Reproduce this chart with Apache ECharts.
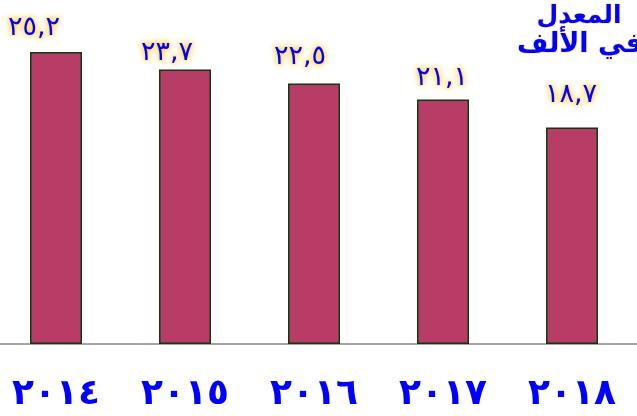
<!DOCTYPE html>
<html><head><meta charset="utf-8">
<script src="https://cdn.jsdelivr.net/npm/echarts@6/dist/echarts.min.js"></script>
<style>html,body{margin:0;padding:0;background:#fff}#c{width:637px;height:416px}</style>
</head><body><div id="c"></div>
<script>
const years = ['٢٠١٤','٢٠١٥','٢٠١٦','٢٠١٧','٢٠١٨'];
const values = [25.2, 23.7, 22.5, 21.1, 18.7];
const valueLabels = ['٢٥,٢','٢٣,٧','٢٢,٥','٢١,١','١٨,٧'];
const titleLines = ['المعدل', 'في الألف'];

// label nudges as placed in the original slide (layout only)
const labelNudge = [[-22,-3],[-18,5],[-14,-5],[-1,0],[-1,-11]];

const glow = { textShadowColor: '#ffc21a', textShadowBlur: 6, textBorderColor: 'rgba(255,230,140,0.45)', textBorderWidth: 2 };
const gGlow = { stroke: 'rgba(255,225,130,0.6)', lineWidth: 2, shadowColor: '#ffc21a', shadowBlur: 6 };
const chart = echarts.init(document.getElementById('c'));
chart.setOption({
  animation: false,
  graphic: [{
    type: 'text', z: 10,
    style: Object.assign({
      text: titleLines[0], x: 579, y: 16, fill: '#0000ff', font: 'bold 25px "DejaVu Sans"',
      align: 'center', verticalAlign: 'middle'
    }, gGlow)
  }, {
    type: 'text', z: 10,
    style: Object.assign({
      text: titleLines[1], x: 580, y: 45, fill: '#0000ff', font: 'bold 27px "DejaVu Sans"',
      align: 'center', verticalAlign: 'middle'
    }, gGlow)
  }],
  grid: [
    { left: 56, right: 65, top: 0, bottom: 72 },
    { left: 0, right: 0, top: 0, bottom: 72 }
  ],
  xAxis: [{
    type: 'category', data: years, gridIndex: 0, boundaryGap: false,
    axisLine: { show: false },
    axisTick: { show: false },
    axisLabel: {
      color: '#0000ff', fontSize: 36, fontWeight: 'bold', fontFamily: 'DejaVu Sans', margin: 33
    }
  }, {
    type: 'value', gridIndex: 1, min: 0, max: 1, show: true,
    axisLine: { show: true, onZero: false, lineStyle: { color: '#a6a6a6', width: 2 } },
    axisTick: { show: false }, axisLabel: { show: false }, splitLine: { show: false }
  }],
  yAxis: [
    { type: 'value', gridIndex: 0, min: 0, max: 29.7, show: false, splitLine: { show: false } },
    { type: 'value', gridIndex: 1, min: 0, max: 1, show: false, splitLine: { show: false } }
  ],
  series: [{
    type: 'bar', barWidth: 52, clip: false, xAxisIndex: 0, yAxisIndex: 0,
    data: values.map((v, i) => ({ value: v, label: { offset: labelNudge[i] } })),
    itemStyle: { color: '#b83d66', borderColor: '#123812', borderWidth: 1.5 },
    label: Object.assign({
      show: true, position: 'top', distance: 8,
      formatter: p => valueLabels[p.dataIndex],
      color: '#0000ff', fontSize: 27, fontFamily: 'DejaVu Sans'
    }, glow)
  }]
});
</script></body></html>
